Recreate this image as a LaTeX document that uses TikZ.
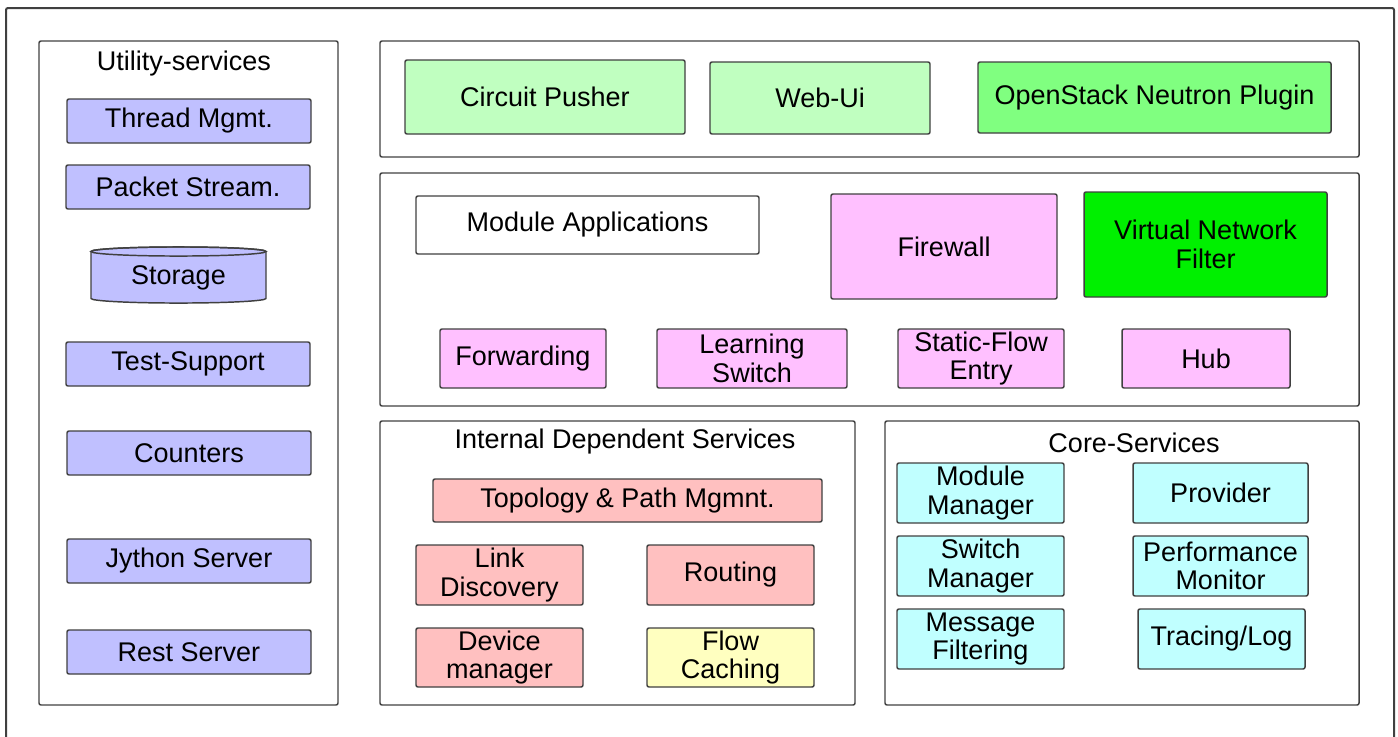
\documentclass[tikz,border=0pt]{standalone}
\usepackage{fontspec}
\setmainfont{Liberation Sans}

\definecolor{edge}{HTML}{404040}
\definecolor{utilblue}{HTML}{C0C0FF}
\definecolor{appgreen}{HTML}{C0FFC0}
\definecolor{plugingreen}{HTML}{80FF80}
\definecolor{vnfgreen}{HTML}{00F000}
\definecolor{modpink}{HTML}{FFC0FF}
\definecolor{intsalmon}{HTML}{FFC0C0}
\definecolor{cacheyellow}{HTML}{FFFFC0}
\definecolor{corecyan}{HTML}{C0FFFF}

\newcommand\boxfont{\fontsize{20.25pt}{21.5pt}\selectfont}

\tikzset{
  % span=x1/y1/x2/y2 : a rectangle given by two corners in picture units
  span/.style args={#1/#2/#3/#4}{
    minimum width={(#3-#1)*0.75pt}, minimum height={(#4-#2)*0.75pt},
    at={({(#1+#3)/2},{(#2+#4)/2})}},
  panel/.style={draw=edge, line width=1.1pt, rounded corners=1.5pt, inner sep=0pt},
  blk/.style={draw=edge, line width=1.1pt, rounded corners=1.5pt, inner sep=0pt,
              align=center, font=\boxfont},
  title/.style={font=\boxfont, inner sep=0pt},
  util/.style={blk, fill=utilblue},
  app/.style={blk, fill=appgreen},
  mod/.style={blk, fill=modpink},
  int/.style={blk, fill=intsalmon},
  core/.style={blk, fill=corecyan},
}

\begin{document}
\begin{tikzpicture}[x=0.75pt, y=-0.75pt]
\useasboundingbox (0,0) rectangle (1398,736);
\clip (0,0) rectangle (1398,736);

% outer frame (its lower edge runs past the page)
\node[panel, line width=1.5pt, span=6/8/1394/770] (outer) {};

% ---------- utility services ----------
\node[panel, span=39/41/338/705] (utilpanel) {};
\node[title] (utiltitle) at (184,64) {Utility-services};
\node[util, span=67/99/311/143]  (thread)  {Thread Mgmt.};
\node[util, span=66/165/310/209] (packet)  {Packet Stream.};

% storage drum
\filldraw[draw=edge, line width=1.1pt, fill=utilblue]
  (91,251.5) -- (91,298.5)
  arc[start angle=180, end angle=360, x radius=65.625pt, y radius=3.4pt]
  -- (266,251.5)
  arc[start angle=0, end angle=180, x radius=65.625pt, y radius=3.4pt] -- cycle;
\draw[edge, line width=1.1pt] (178.5,251.5) ellipse[x radius=65.625pt, y radius=3.4pt];
\node[title] (storage) at (178.5,278) {Storage};

\node[util, span=66/342/310/386] (test)    {Test-Support};
\node[util, span=67/431/311/475] (counters){Counters};
\node[util, span=67/539/311/583] (jython)  {Jython Server};
\node[util, span=67/630/311/674] (rest)    {Rest Server};

% ---------- applications ----------
\node[panel, span=380/41/1359/157] (apppanel) {};
\node[app, span=405/60/685/134]   (circuit) {Circuit Pusher};
\node[app, span=710/62/930/134]   (webui)   {Web-Ui};
\node[blk, fill=plugingreen, span=978/62/1331/133] (neutron) {OpenStack Neutron Plugin};

% ---------- module applications ----------
\node[panel, span=380/173/1359/406] (modpanel) {};
\node[blk, fill=white, span=416/196/759/254] (modapps) {Module Applications};
\node[mod, span=831/194/1057/299]  (firewall) {Firewall};
\node[blk, fill=vnfgreen, span=1084/192/1327/297] (vnf) {Virtual Network\\Filter};
\node[mod, span=440/329/606/388]   (fwd)      {Forwarding};
\node[mod, span=657/329/847/388]   (learn)    {Learning\\Switch};
\node[mod, span=898/329/1064/388]  (static)   {Static-Flow\\Entry};
\node[mod, span=1122/329/1290/388] (hub)      {Hub};

% ---------- internal dependent services ----------
\node[panel, span=380/421/855/705] (intpanel) {};
\node[title] (inttitle) at (625,442) {Internal Dependent Services};
\node[int, span=433/479/822/522] (topo)    {Topology \& Path Mgmnt.};
\node[int, span=416/545/583/605] (link)    {Link\\Discovery};
\node[int, span=647/545/814/605] (routing) {Routing};
\node[int, span=416/628/583/687] (device)  {Device\\manager};
\node[blk, fill=cacheyellow, span=647/628/814/687] (flowcache) {Flow\\Caching};

% ---------- core services ----------
\node[panel, span=885/421/1359/705] (corepanel) {};
\node[title] (coretitle) at (1134,443) {Core-Services};
\node[core, span=897/463/1064/523]  (modmgr)   {Module\\Manager};
\node[core, span=1133/463/1308/523] (provider) {Provider};
\node[core, span=897/536/1064/596]  (swmgr)    {Switch\\Manager};
\node[core, span=1133/536/1308/596] (perf)     {Performance\\Monitor};
\node[core, span=897/609/1064/669]  (msgfilt)  {Message\\Filtering};
\node[core, span=1138/609/1305/669] (tracing)  {Tracing/Log};
\end{tikzpicture}
\end{document}
